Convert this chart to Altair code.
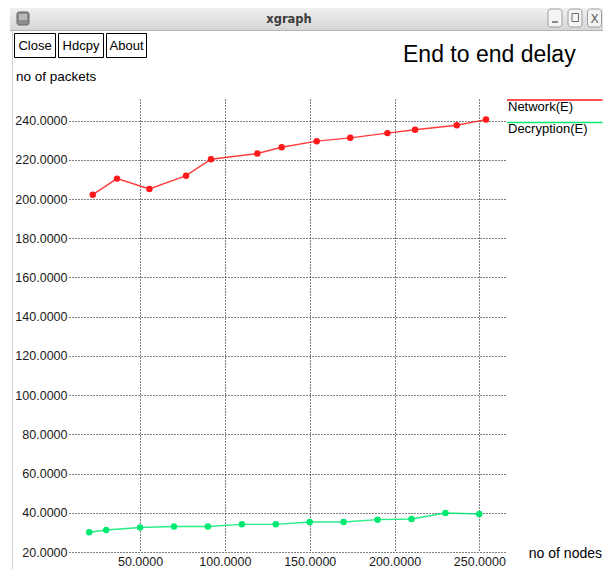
import altair as alt
import pandas as pd

# ---------------- data ----------------
series_names = ["Network(E)", "Decryption(E)"]
series_colors = ["#ff1a1a", "#00ea72"]

network_nodes = [22.1, 36.4, 55.5, 77.1, 91.8, 119.1, 133.5, 154.1, 173.9, 195.8, 212.1, 236.7, 253.9]
network_vals = [202.2, 210.4, 205.1, 211.9, 220.3, 223.2, 226.4, 229.5, 231.2, 233.6, 235.3, 237.6, 240.5]

decryption_nodes = [20, 30, 50, 70, 90, 110, 130, 150, 170, 190, 210, 230, 250]
decryption_vals = [30.1, 31.2, 32.5, 33.0, 33.0, 34.1, 34.1, 35.3, 35.3, 36.5, 36.8, 39.9, 39.4]

x_ticks = [50, 100, 150, 200, 250]
y_ticks = [20, 40, 60, 80, 100, 120, 140, 160, 180, 200, 220, 240]

caption = "Chart :2 End to end delay"
window_title = "xgraph"
plot_title = "End to end delay"
x_label = "no of nodes"
y_label = "no of packets"
buttons = ["Close", "Hdcpy", "About"]

# ---------------- layout ----------------
X0, Y0 = 69, 99          # page position of the plot area's origin
W, H = 438, 453
FONT = "Liberation Sans"


def px(x):
    return x - X0


def py(y):
    return y - Y0


one = pd.DataFrame({"k": [0]})


def rect(x1, y1, x2, y2, fill="white", stroke=None, sw=1, radius=0):
    kw = dict(fill=fill, strokeWidth=sw, cornerRadius=radius)
    if stroke is not None:
        kw["stroke"] = stroke
    return alt.Chart(one).mark_rect(**kw).encode(
        x=alt.value(px(x1)), x2=alt.value(px(x2)),
        y=alt.value(py(y1)), y2=alt.value(py(y2)))


def line(x1, y1, x2, y2, color, sw=1):
    return alt.Chart(one).mark_rule(color=color, strokeWidth=sw).encode(
        x=alt.value(px(x1)), x2=alt.value(px(x2)),
        y=alt.value(py(y1)), y2=alt.value(py(y2)))


def text(s, x, y, size, align="left", baseline="alphabetic", font=FONT,
         weight="normal", color="black"):
    return alt.Chart(one).mark_text(
        text=s, align=align, baseline=baseline, font=font, fontSize=size,
        fontWeight=weight, color=color).encode(
        x=alt.value(px(x)), y=alt.value(py(y)))


# ---------------- data layers ----------------
df = pd.concat([
    pd.DataFrame({"nodes": network_nodes, "value": network_vals, "series": series_names[0]}),
    pd.DataFrame({"nodes": decryption_nodes, "value": decryption_vals, "series": series_names[1]}),
])

x_enc = alt.X("nodes:Q",
              scale=alt.Scale(domain=[8.1, 266.3], nice=False, zero=False),
              axis=alt.Axis(values=x_ticks, format=".4f", title=None, domain=False,
                            ticks=False, grid=True, gridColor="black", gridDash=[1, 2],
                            gridWidth=1, labelFont=FONT, labelFontSize=12.5,
                            labelColor="#1a1a1a", labelPadding=3))
y_enc = alt.Y("value:Q",
              scale=alt.Scale(domain=[20, 251], nice=False, zero=False),
              axis=alt.Axis(values=y_ticks, format=".4f", title=None, domain=False,
                            ticks=False, grid=True, gridColor="black", gridDash=[1, 2],
                            gridWidth=1, labelFont=FONT, labelFontSize=12.5,
                            labelColor="#1a1a1a", labelPadding=2))
color_enc = alt.Color("series:N",
                      scale=alt.Scale(domain=series_names, range=series_colors),
                      legend=None)

base = alt.Chart(df).encode(x=x_enc, y=y_enc, color=color_enc)
lines = base.mark_line(strokeWidth=1.4, opacity=0.85)
points = base.mark_circle(size=42, opacity=1)

# ---------------- window chrome ----------------
title_bar_fill = alt.LinearGradient(
    gradient="linear", x1=0, y1=0, x2=0, y2=1,
    stops=[alt.GradientStop(color="#f0f0f0", offset=0),
           alt.GradientStop(color="#d6d6d6", offset=1)])

chrome = [
    rect(10, 8, 609, 30, fill=title_bar_fill),
    line(10, 30.5, 609, 30.5, "#b4b4b4"),
    rect(17, 12, 29, 25, fill="#8c8c8c", stroke="#666666", radius=2),
    rect(19, 14, 27, 20, fill="#b9b9b9"),
    text(window_title, 289, 23, 11.5, align="center", font="DejaVu Sans",
         weight="bold", color="#3c3c3c"),
    rect(548, 9, 562, 27, fill="#f4f4f4", stroke="#a0a0a0", radius=3),
    rect(568, 9, 582, 27, fill="#f4f4f4", stroke="#a0a0a0", radius=3),
    rect(587.5, 9, 601.5, 27, fill="#f4f4f4", stroke="#a0a0a0", radius=3),
    line(552, 22, 558, 22, "#666666", 1.5),
    rect(572, 13.5, 578.5, 21.5, fill="#f4f4f4", stroke="#6a6a6a"),
    text("X", 594.5, 23, 12, align="center", font="DejaVu Sans", color="#666666"),
    line(12.5, 31, 12.5, 569, "#cfcfcf"),
]

btn_boxes = [(14.5, 55.5), (58.5, 103.5), (106.5, 146.5)]
for name, (bx1, bx2) in zip(buttons, btn_boxes):
    chrome.append(rect(bx1, 33.5, bx2, 57.5, fill="white", stroke="black"))
    chrome.append(text(name, (bx1 + bx2) / 2, 50, 13, align="center"))

labels = [
    text(plot_title, 403, 62, 23),
    text(y_label, 16, 81, 13.5),
    text(x_label, 602, 558, 14, align="right"),
    line(507, 100, 602.5, 100, series_colors[0], 1.5),
    text(series_names[0], 508, 111, 13),
    line(507, 122.5, 602.5, 122.5, series_colors[1], 1.5),
    text(series_names[1], 508, 133, 13),
]

chart = alt.layer(*chrome, lines, points, *labels).properties(
    width=W, height=H,
    padding={"left": X0 - 8, "top": Y0 - 8, "right": 603 - X0 - W, "bottom": 569 - Y0 - H},
    autosize=alt.AutoSizeParams(type="none"),
    background="white",
    description=caption,
).configure_view(stroke=None)

chart.save("out.html", embed_options={"renderer": "svg", "actions": False})
